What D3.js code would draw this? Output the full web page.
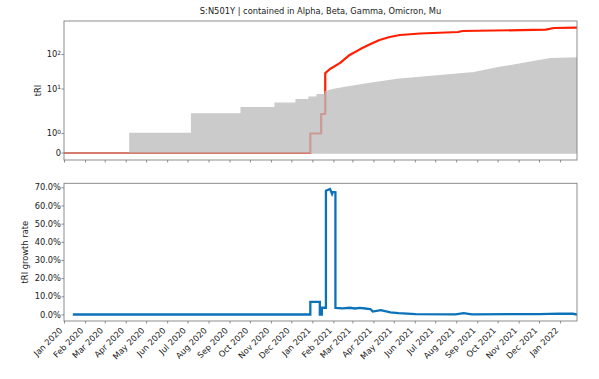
<!DOCTYPE html>
<html><head><meta charset="utf-8">
<script src="https://cdn.jsdelivr.net/npm/d3@7"></script>
<style>
html,body{margin:0;padding:0;background:#fff;}
svg{display:block;font-family:"DejaVu Sans",sans-serif;}
</style></head>
<body><svg id="c" width="599" height="379"></svg>
<script>
// ---- data ----
const titleText = "S:N501Y | contained in Alpha, Beta, Gamma, Omicron, Mu";
const xStart = "2020-01-01", xEnd = "2022-01-26";
const topTickValues = [0, 1, 10, 100];
const topTickExponents = [null, "0", "1", "2"];
const bottomTickValues = [0, 10, 20, 30, 40, 50, 60, 70];

// background gray area (tRI of reference)
const grayDates = ["2020-01-01","2020-04-07","2020-04-07","2020-07-07","2020-07-07","2020-09-18","2020-09-18","2020-11-07","2020-11-07","2020-12-08","2020-12-08","2020-12-27","2020-12-27","2021-01-08","2021-01-08","2021-01-20","2021-01-20","2021-01-27","2021-02-02","2021-02-16","2021-03-22","2021-05-06","2021-06-09","2021-08-27","2021-09-30","2021-11-14","2021-12-18","2022-01-26"];
const grayValues = [0,0,1,1,2.74,2.74,3.8,3.8,4.8,4.8,5.75,5.75,6.6,6.6,7.45,7.45,8.7,9.3,9.85,10.9,14,19.1,21.8,29.6,40.6,57.8,75.5,79.2];

// red tRI line
const redDates = ["2020-01-01","2020-12-29","2020-12-29","2021-01-14","2021-01-14","2021-01-20","2021-01-20","2021-01-27","2021-02-11","2021-02-25","2021-03-12","2021-03-27","2021-04-10","2021-04-25","2021-05-10","2021-06-09","2021-08-04","2021-08-10","2021-12-11","2021-12-23","2022-01-26"];
const redValues = [0,0,1,1,2.74,2.74,29,38,57,97,141,198,263,321,367,406,449,480,524,586,598];

// blue growth rate (%)
const blueDates = ["2020-01-14","2020-12-29","2020-12-29","2021-01-12","2021-01-12","2021-01-15","2021-01-15","2021-01-21","2021-01-21","2021-01-27","2021-01-30","2021-01-31","2021-02-04","2021-02-04","2021-02-15","2021-02-25","2021-03-05","2021-03-12","2021-03-20","2021-03-28","2021-03-31","2021-04-12","2021-04-26","2021-05-08","2021-06-02","2021-07-31","2021-08-12","2021-08-24","2021-12-01","2021-12-30","2022-01-20","2022-01-26"];
const blueValues = [0,0,7.0,7.0,0,0,3.7,3.7,68.1,69.1,66.3,67.4,67.3,3.6,3.4,3.7,3.3,3.6,3.3,2.9,1.6,2.4,1.2,0.8,0.2,0.1,0.8,0.1,0.2,0.5,0.4,0.0];

// ---- drawing ----
const parse = d3.utcParse("%Y-%m-%d");
const svg = d3.select("#c");
const L = 64, R = 577;
const topBox = {t: 21, b: 160};
const botBox = {t: 183.3, b: 321};
const axisCol = "#808080", textCol = "#1a1a1a";

const x = d3.scaleUtc().domain([parse(xStart), parse(xEnd)]).range([L, R]);
// symlog-like transform reproduced piecewise
const u = v => v <= 1 ? v : 1 + Math.log10(v);
const yU = d3.scaleLinear().domain([0, 1, 2, 3]).range([153, 133.5, 89, 54.5]);
const yTop = v => yU(u(v));
const yBot = d3.scaleLinear().domain([-3.58, 72.2]).range([botBox.b, botBox.t]);

// title
svg.append("text").attr("x", (L + R) / 2).attr("y", 14).attr("text-anchor", "middle")
  .attr("font-size", 8.3).attr("fill", textCol).text(titleText);

svg.append("clipPath").attr("id", "ct").append("rect")
  .attr("x", L).attr("y", topBox.t).attr("width", R - L).attr("height", topBox.b - topBox.t);
svg.append("clipPath").attr("id", "cb").append("rect")
  .attr("x", L).attr("y", botBox.t).attr("width", R - L).attr("height", botBox.b - botBox.t);

// top panel
const gTop = svg.append("g").attr("clip-path", "url(#ct)");
const redData = redDates.map((d, i) => [parse(d), redValues[i]]);
gTop.append("path").datum(redData)
  .attr("d", d3.line().x(d => x(d[0])).y(d => yTop(d[1])))
  .attr("fill", "none").attr("stroke", "#ff1f00").attr("stroke-width", 2.2)
  .attr("stroke-linejoin", "round");
const grayData = grayDates.map((d, i) => [parse(d), grayValues[i]]);
gTop.append("g").attr("opacity", 0.78).append("path").datum(grayData)
  .attr("d", d3.area().x(d => x(d[0])).y0(yTop(0)).y1(d => yTop(d[1])))
  .attr("fill", "#bdbdbd").attr("stroke", "#bdbdbd").attr("stroke-width", 1.3);

// bottom panel
const gBot = svg.append("g").attr("clip-path", "url(#cb)");
const blueData = blueDates.map((d, i) => [parse(d), blueValues[i]]);
gBot.append("path").datum(blueData)
  .attr("d", d3.line().x(d => x(d[0])).y(d => yBot(d[1])))
  .attr("fill", "none").attr("stroke", "#0b72b9").attr("stroke-width", 2.3)
  .attr("stroke-linejoin", "miter");

// frames
[topBox, botBox].forEach(b => {
  svg.append("rect").attr("x", L).attr("y", b.t).attr("width", R - L).attr("height", b.b - b.t)
    .attr("fill", "none").attr("stroke", axisCol).attr("stroke-width", 0.9);
});

const months = x.ticks(d3.utcMonth.every(1)).filter(d => x(d) >= L - 0.5 && x(d) <= R + 0.5);
const fmt = d3.utcFormat("%b %Y");

function styleAxis(g) {
  g.select(".domain").remove();
  g.selectAll(".tick line").attr("stroke", axisCol).attr("stroke-width", 0.9);
  g.selectAll(".tick text").attr("fill", textCol).attr("font-size", 8.3).attr("font-family", "DejaVu Sans, sans-serif");
}

// x axes
svg.append("g").attr("transform", `translate(0,${topBox.b})`)
  .call(d3.axisBottom(x).tickValues(months).tickSize(2.5).tickFormat(""))
  .call(styleAxis);
const xb = svg.append("g").attr("transform", `translate(0,${botBox.b})`)
  .call(d3.axisBottom(x).tickValues(months).tickSize(2.5).tickFormat(fmt))
  .call(styleAxis);
xb.selectAll(".tick text")
  .attr("text-anchor", "end").attr("dy", null).attr("y", 0)
  .attr("transform", "translate(-1.5,10) rotate(-45)");

// y axis top
const ya = svg.append("g").attr("transform", `translate(${L},0)`);
topTickValues.forEach((v, i) => {
  const yy = yTop(v);
  ya.append("line").attr("x1", -2.5).attr("x2", 0).attr("y1", yy).attr("y2", yy)
    .attr("stroke", axisCol).attr("stroke-width", 0.9);
  const t = ya.append("text").attr("x", -3).attr("y", yy).attr("dy", "0.32em")
    .attr("text-anchor", "end").attr("font-size", 8.3).attr("fill", textCol);
  if (topTickExponents[i] === null) t.text(String(v));
  else {
    t.append("tspan").text("10");
    t.append("tspan").attr("dy", "-0.45em").attr("font-size", 5.8).text(topTickExponents[i]);
  }
});

// y axis bottom
svg.append("g").attr("transform", `translate(${L},0)`)
  .call(d3.axisLeft(yBot).tickValues(bottomTickValues).tickSize(2.5).tickPadding(0.5)
    .tickFormat(d => d.toFixed(1) + "%"))
  .call(styleAxis);

// axis labels
svg.append("text").attr("transform", `translate(41,${(topBox.t + topBox.b) / 2}) rotate(-90)`)
  .attr("text-anchor", "middle").attr("font-size", 8.3).attr("fill", textCol).text("tRI");
svg.append("text").attr("transform", `translate(28,${(botBox.t + botBox.b) / 2}) rotate(-90)`)
  .attr("text-anchor", "middle").attr("font-size", 8.3).attr("fill", textCol).text("tRI growth rate");
</script></body></html>
